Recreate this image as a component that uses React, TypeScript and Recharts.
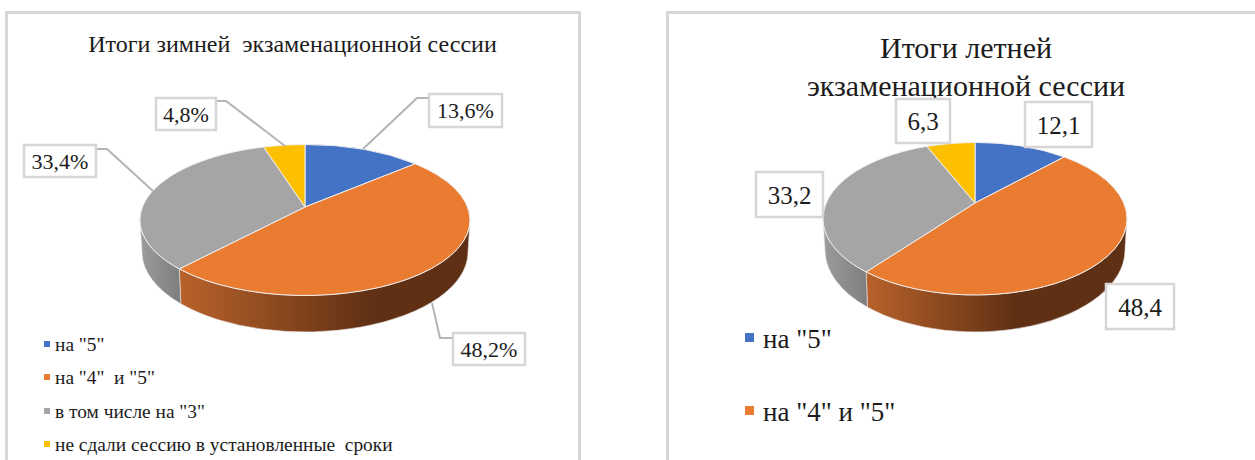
import React from 'react'
import { PieChart, Pie, Legend } from 'recharts'

const categories = ['на "5"', 'на "4"  и "5"', 'в том числе на "3"', 'не сдали сессию в установленные  сроки']
const categoriesSummer = ['на "5"', 'на "4" и "5"', 'в том числе на "3"', 'не сдали сессию в установленные сроки']
const winterValues = [13.6, 48.2, 33.4, 4.8]
const summerValues = [12.1, 48.4, 33.2, 6.3]
const colors = ['#4472c4', '#ea7c31', '#a5a5a5', '#fcc000']
const wallColors = [
  ['#2f5597', '#2f5597'],
  ['#b9622a', '#5f3014'],
  ['#9c9c9c', '#7f7f7f'],
  ['#bf9000', '#bf9000'],
]
const FONT = '"Liberation Serif", "Times New Roman", serif'
const EDGE = '#d6d6d6'
const INK = '#1c1c1c'

type Panel = {
  id: string
  x0: number
  width: number
  cx: number
  cy: number
  rx: number
  ry: number
  tilt: number
  bottomRx: number
  bottomCy: number
  bottomRy: number
  gradTo: number
  suffix: string
  labelFont: number
  boxes: number[][]
  leaders: number[][][]
}

const winter: Panel = {
  id: 'winter', x0: 0, width: 600,
  cx: 305, cy: 220, rx: 165, ry: 75.5, tilt: 0.172,
  bottomRx: 163, bottomCy: 252, bottomRy: 80, gradTo: 372,
  suffix: '%', labelFont: 22,
  boxes: [[429, 94, 73, 33], [453, 333, 72, 32], [24, 145, 72, 32], [156, 98, 60, 32]],
  leaders: [
    [[429, 98], [417, 98], [363, 149]],
    [[453, 338], [440, 338], [432, 303]],
    [[96, 149], [107, 149], [153, 191]],
    [[216, 101], [226, 101], [285, 146]],
  ],
}

const summer: Panel = {
  id: 'summer', x0: 640, width: 615,
  cx: 335, cy: 218.7, rx: 152, ry: 76.3, tilt: 0.206,
  bottomRx: 150, bottomCy: 250, bottomRy: 82, gradTo: 376,
  suffix: '', labelFont: 25,
  boxes: [[385, 102, 67, 45], [466, 284, 68, 45], [116, 172, 67, 45], [256, 99, 54, 44]],
  leaders: [],
}

// circle point (angle from top, clockwise) -> point on the tilted disc, y up
const project = (deg: number, t: number) => {
  const a = (deg * Math.PI) / 180
  const x = Math.sin(a)
  const y = Math.cos(a)
  const d = 1 + t * y
  return { x: (x * Math.sqrt(1 - t * t)) / d, y: (y + t) / d }
}

const makeSlice = (p: Panel) => (props: any) => {
  const { cx, cy, outerRadius, startAngle, endAngle, fill, index } = props
  const rx = outerRadius
  const ry = p.ry
  const a = project(90 - startAngle, p.tilt)
  const b = project(90 - endAngle, p.tilt)
  // same points as angles on the ellipse, clockwise on screen
  const phiA = Math.atan2(-a.y, a.x)
  let phiB = Math.atan2(-b.y, b.x)
  while (phiB <= phiA) phiB += Math.PI * 2
  const large = phiB - phiA > Math.PI ? 1 : 0
  const top = (phi: number) => `${cx + rx * Math.cos(phi)} ${cy + ry * Math.sin(phi)}`
  const low = (phi: number) => `${cx + p.bottomRx * Math.cos(phi)} ${p.bottomCy + p.bottomRy * Math.sin(phi)}`
  const faceD = `M${cx} ${cy - ry * p.tilt} L${top(phiA)} A${rx} ${ry} 0 ${large} 1 ${top(phiB)} Z`

  // only the front half of the rim shows
  let wall = null
  for (const k of [0, Math.PI * 2]) {
    const s = Math.max(phiA, k)
    const e = Math.min(phiB, k + Math.PI)
    if (e > s) {
      const d = `M${top(s)} A${rx} ${ry} 0 0 1 ${top(e)} L${low(e)} A${p.bottomRx} ${p.bottomRy} 0 0 0 ${low(s)} Z`
      const gid = `${p.id}-wall-${index}`
      const x1 = cx + rx * Math.cos(e)
      const x2 = index === 1 ? p.gradTo : cx + rx * Math.cos(s)
      wall = (
        <g>
          <defs>
            <linearGradient id={gid} gradientUnits="userSpaceOnUse" x1={x1} x2={x2} y1={0} y2={0}>
              <stop offset="0" stopColor={wallColors[index][0]} />
              <stop offset="1" stopColor={wallColors[index][1]} />
            </linearGradient>
          </defs>
          <path d={d} fill={`url(#${gid})`} stroke="#e6e6e6" strokeWidth={0.6} />
        </g>
      )
    }
  }
  return (
    <g>
      {wall}
      <path d={faceD} fill={fill} stroke="#efefef" strokeWidth={1} strokeLinejoin="round" />
    </g>
  )
}

const makeLabel = (p: Panel) => (props: any) => {
  const { index, value } = props
  const [x, y, w, h] = p.boxes[index]
  const leader = p.leaders[index]
  return (
    <g>
      {leader && (
        <polyline points={leader.map((q) => q.join(',')).join(' ')} fill="none" stroke="#b4b4b4" strokeWidth={2} />
      )}
      <rect x={x} y={y} width={w} height={h} fill="#fff" stroke={EDGE} strokeWidth={2.5} />
      <text x={x + w / 2} y={y + h / 2 + p.labelFont * 0.36} textAnchor="middle" fontFamily={FONT} fontSize={p.labelFont} fill={INK}>
        {value.toFixed(1).replace('.', ',') + p.suffix}
      </text>
    </g>
  )
}

const Rows = ({ payload, tops, size, fontSize, gap }: any) => (
  <div style={{ position: 'relative', fontFamily: FONT, fontSize, color: INK, whiteSpace: 'pre' }}>
    {(payload || []).slice(0, tops.length).map((item: any, i: number) => (
      <div key={i} style={{ position: 'absolute', left: 0, top: tops[i] - fontSize * 0.6, lineHeight: `${fontSize * 1.2}px` }}>
        <span style={{ position: 'absolute', left: 0, top: fontSize * 0.6 - size / 2 - 1, width: size, height: size, background: item.color }} />
        <span style={{ position: 'absolute', left: gap }}>{item.value}</span>
      </div>
    ))}
  </div>
)

const Chart = ({ p, names, values, legend }: { p: Panel; names: string[]; values: number[]; legend: any }) => {
  const rows = names.map((name, i) => ({ name, value: values[i], fill: colors[i] }))
  return (
    <div style={{ position: 'absolute', left: p.x0, top: 0 }}>
      <PieChart width={p.width} height={460} margin={{ top: 0, right: 0, bottom: 0, left: 0 }}>
        <Pie
          data={rows}
          dataKey="value"
          nameKey="name"
          cx={p.cx}
          cy={p.cy}
          outerRadius={p.rx}
          startAngle={90}
          endAngle={-270}
          shape={makeSlice(p)}
          label={makeLabel(p)}
          labelLine={false}
          isAnimationActive={false}
        />
        <Legend
          itemSorter={null}
          content={(lp: any) => <Rows payload={lp.payload} {...legend} />}
          wrapperStyle={{ position: 'absolute', left: legend.left, top: 0, bottom: 'auto', width: 400, height: 0 }}
        />
      </PieChart>
    </div>
  )
}

export default function App() {
  return (
    <div style={{ position: 'absolute', left: 0, top: 0, width: 1255, height: 460, overflow: 'hidden', background: '#fff' }}>
      <div style={{ position: 'absolute', left: 5, top: 11, width: 570, height: 480, border: `3px solid ${EDGE}` }} />
      <div style={{ position: 'absolute', left: 666, top: 11, width: 620, height: 480, border: `3px solid ${EDGE}` }} />
      <div style={{ position: 'absolute', left: 6, width: 573, top: 30, textAlign: 'center', fontFamily: FONT, fontSize: 24, lineHeight: '28px', color: INK, whiteSpace: 'pre' }}>
        Итоги зимней  экзаменационной сессии
      </div>
      <div style={{ position: 'absolute', left: 766, width: 400, top: 29, textAlign: 'center', fontFamily: FONT, fontSize: 30, lineHeight: '38px', color: INK, whiteSpace: 'pre' }}>
        {'Итоги летней\nэкзаменационной сессии'}
      </div>
      <Chart p={winter} names={categories} values={winterValues} legend={{ left: 44, tops: [345, 378, 412, 445], size: 6, fontSize: 19.4, gap: 11 }} />
      <Chart p={summer} names={categoriesSummer} values={summerValues} legend={{ left: 105, tops: [339, 412], size: 9, fontSize: 27, gap: 18 }} />
    </div>
  )
}
